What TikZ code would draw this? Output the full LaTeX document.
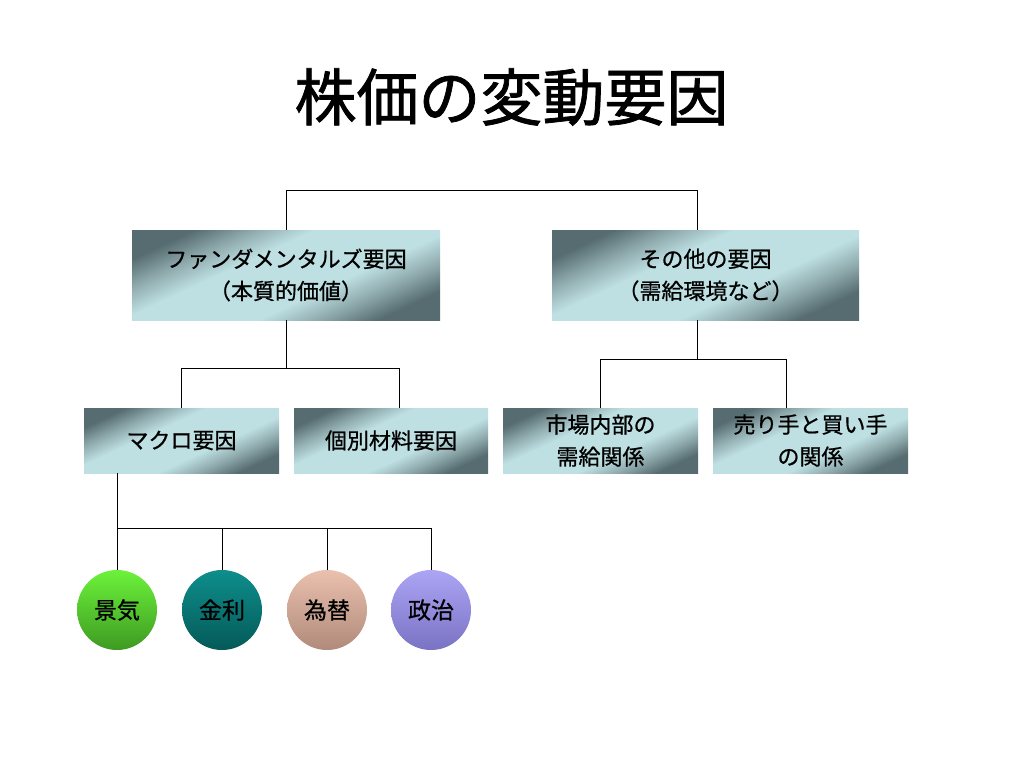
\documentclass[tikz,border=0pt]{standalone}
\usepackage{fontspec}
\setmainfont{Noto Sans CJK JP}
\newfontfamily\titlefont[FakeBold=1.2]{Noto Sans CJK JP}
\newfontfamily\boxfont[FakeBold=0.8]{Noto Sans CJK JP}
\definecolor{bdark}{HTML}{566C70}
\definecolor{bmid}{HTML}{8FAAAD}
\definecolor{blight}{HTML}{BEE0E3}
\pgfdeclarehorizontalshading{boxshade}{100bp}{color(0bp)=(bdark); color(25bp)=(bdark); color(33bp)=(bmid); color(41bp)=(blight); color(59bp)=(blight); color(67bp)=(bmid); color(75bp)=(bdark); color(100bp)=(bdark)}
\definecolor{gtop}{HTML}{6CF23A}
\definecolor{gbot}{HTML}{3E9A22}
\definecolor{ttop}{HTML}{0E8E8C}
\definecolor{tbot}{HTML}{045A58}
\definecolor{ptop}{HTML}{EAC0AE}
\definecolor{pbot}{HTML}{B08A7A}
\definecolor{ltop}{HTML}{ACA4F4}
\definecolor{lbot}{HTML}{7A72C2}
\tikzset{
  box/.style={shading=boxshade, shading angle=-65, inner sep=0pt, outer sep=0pt,
    font=\boxfont\fontsize{22}{32}\selectfont, align=center, text=black},
  ball/.style={circle, minimum size=80pt, inner sep=0pt, outer sep=0pt,
    font=\boxfont\fontsize{23}{28}\selectfont, text=black},
  link/.style={draw=black, line width=0.8pt}
}
\begin{document}
\begin{tikzpicture}[x=1pt,y=-1pt]
\useasboundingbox (0,0) rectangle (1024,768);
\node[font=\titlefont\fontsize{62}{68}\selectfont] (title) at (511.5,97) {株価の変動要因};

\node[box, minimum width=308pt, minimum height=90pt] (fund) at (286,275) {ファンダメンタルズ要因\\（本質的価値）};
\node[box, minimum width=307pt, minimum height=90pt] (other) at (705.5,275) {その他の要因\\（需給環境など）};

\node[box, minimum width=195pt, minimum height=65pt] (macro) at (181.5,440.5) {マクロ要因};
\node[box, minimum width=194pt, minimum height=65pt] (kobetsu) at (391,440.5) {個別材料要因};
\node[box, minimum width=195pt, minimum height=65pt] (shijo) at (600.5,440.5) {市場内部の\\需給関係};
\node[box, minimum width=195pt, minimum height=65pt] (urite) at (810.5,440.5) {売り手と買い手\\の関係};

\node[ball, top color=gtop, bottom color=gbot] (keiki) at (117,610) {景気};
\node[ball, top color=ttop, bottom color=tbot] (kinri) at (222,610) {金利};
\node[ball, top color=ptop, bottom color=pbot] (kawase) at (327,610) {為替};
\node[ball, top color=ltop, bottom color=lbot] (seiji) at (431,610) {政治};

% top level
\coordinate (topL) at (286,190);
\coordinate (topR) at (697,190);
\draw[link] (fund.north) -- (topL) -- (topR) -- (topR |- other.north);
% fundamentals
\coordinate (fj) at (286,368);
\coordinate (kobTop) at (399,408);
\draw[link] (fund.south) -- (fj);
\draw[link] (macro.north) -- (macro.north |- fj) -- (kobTop |- fj) -- (kobTop);
% other
\coordinate (oj) at (697,359);
\coordinate (uriTop) at (786,408);
\draw[link] (oj |- other.south) -- (oj);
\draw[link] (shijo.north) -- (shijo.north |- oj) -- (uriTop |- oj) -- (uriTop);
% macro
\coordinate (mj) at (117,528);
\draw[link] (mj |- macro.south) -- (mj) -- (seiji.north |- mj);
\draw[link] (keiki.north) -- (keiki.north |- mj);
\draw[link] (kinri.north) -- (kinri.north |- mj);
\draw[link] (kawase.north) -- (kawase.north |- mj);
\draw[link] (seiji.north) -- (seiji.north |- mj);
\end{tikzpicture}
\end{document}
